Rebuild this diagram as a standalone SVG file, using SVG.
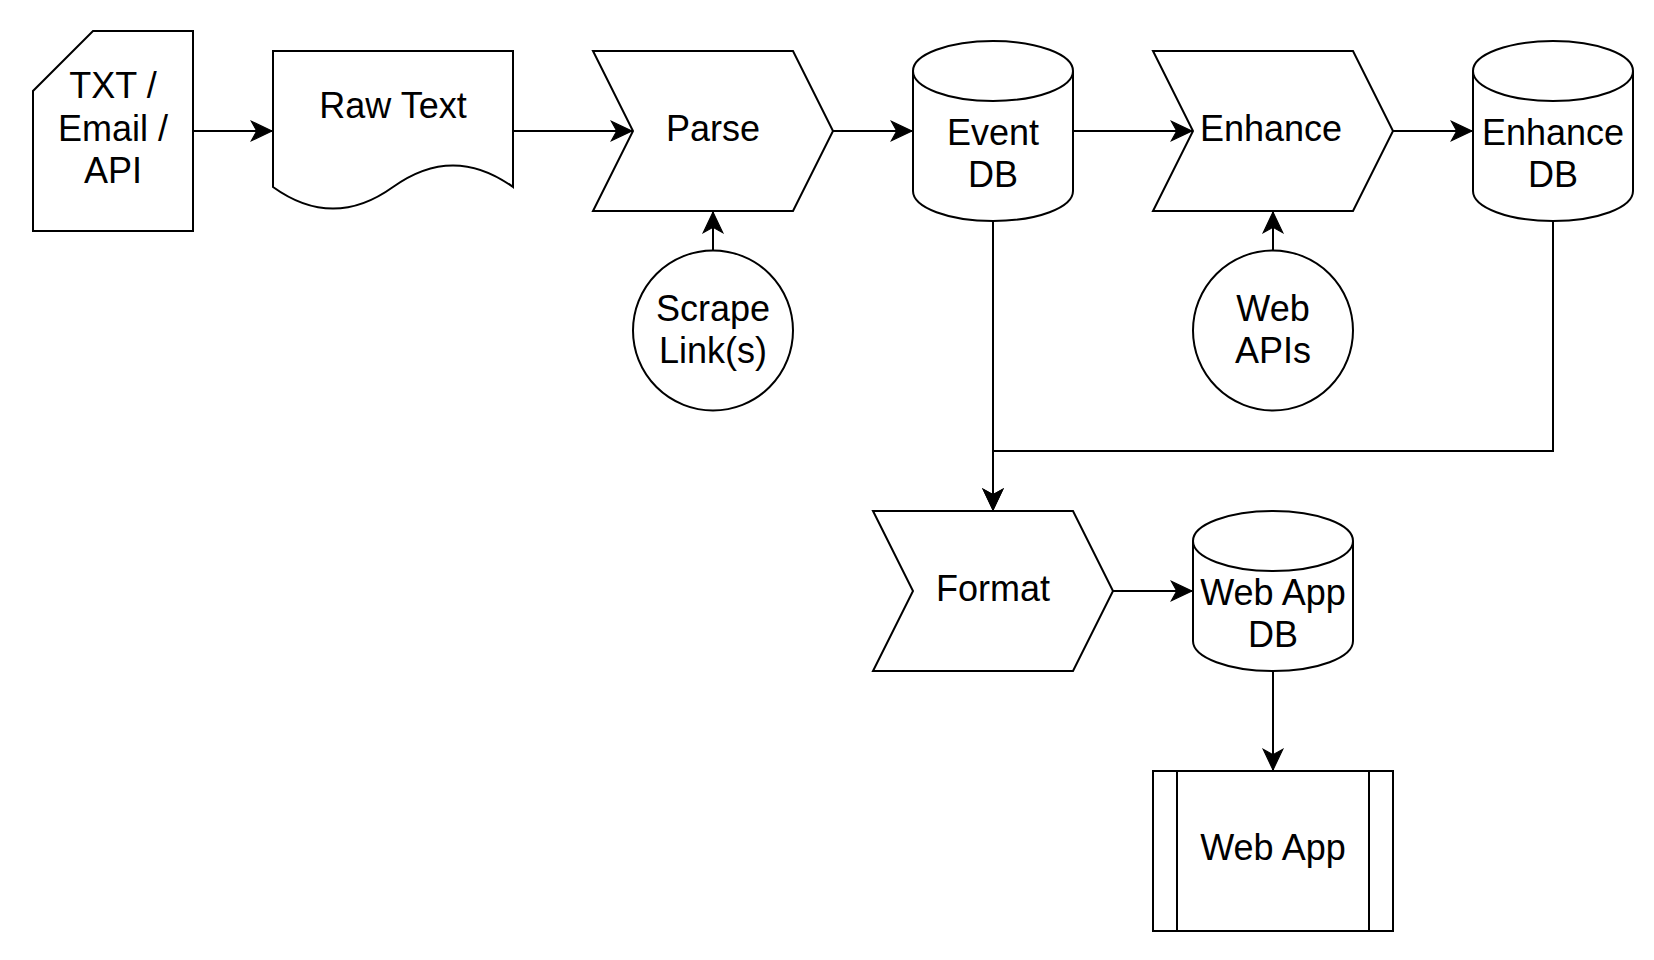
<svg xmlns="http://www.w3.org/2000/svg" width="1654" height="960" viewBox="0 0 1654 960">
<style>
.s{fill:#fff;stroke:#000;stroke-width:2;stroke-linejoin:miter}
.f{fill:none;stroke:#000;stroke-width:2}
.e{fill:none;stroke:#000;stroke-width:2;marker-end:url(#arr)}
text{font-family:"Liberation Sans",Arial,Helvetica,sans-serif;font-size:36px;fill:#000;text-anchor:middle}
</style>
<defs>
<marker id="arr" markerUnits="userSpaceOnUse" markerWidth="24" markerHeight="24" viewBox="-20 -10 22 20" refX="0" refY="0" orient="auto">
<path d="M0 0 L-19 -9 L-14 0 L-19 9 Z" fill="#000" stroke="#000" stroke-width="1"/>
</marker>
</defs>
<rect width="1654" height="960" fill="#fff"/>
<g id="connectors">
<path class="e" d="M193 131 H272"/>
<path class="e" d="M513 131 H632"/>
<path class="e" d="M833 131 H912"/>
<path class="e" d="M1073 131 H1192"/>
<path class="e" d="M1393 131 H1472"/>
<path class="e" d="M713 250 V212"/>
<path class="e" d="M1273 250 V212"/>
<path class="e" d="M993 221 V510"/>
<path class="e" d="M1553 221 V451 H993 V510"/>
<path class="e" d="M1113 591 H1192"/>
<path class="e" d="M1273 671 V770"/>
</g>
<g id="source">
<path class="s" d="M93 31 H193 V231 H33 V91 Z"/>
<text x="113" y="98">TXT /</text>
<text x="113" y="140.5">Email /</text>
<text x="113" y="183">API</text>
</g>
<g id="rawtext">
<path class="s" d="M273 51 H513 V187 Q453 143.8 393 187 Q333 230.2 273 187 Z"/>
<text x="393" y="118">Raw Text</text>
</g>
<g id="parse">
<path class="s" d="M593 51 H793 L833 131 L793 211 H593 L633 131 Z"/>
<text x="713" y="141">Parse</text>
</g>
<g id="eventdb">
<path class="s" d="M913 71 A80 30 0 0 1 1073 71 V191 A80 30 0 0 1 913 191 Z"/>
<path class="f" d="M913 71 A80 30 0 0 0 1073 71"/>
<text x="993" y="145">Event</text>
<text x="993" y="187">DB</text>
</g>
<g id="enhance">
<path class="s" d="M1153 51 H1353 L1393 131 L1353 211 H1153 L1193 131 Z"/>
<text x="1271" y="141">Enhance</text>
</g>
<g id="enhancedb">
<path class="s" d="M1473 71 A80 30 0 0 1 1633 71 V191 A80 30 0 0 1 1473 191 Z"/>
<path class="f" d="M1473 71 A80 30 0 0 0 1633 71"/>
<text x="1553" y="145">Enhance</text>
<text x="1553" y="187">DB</text>
</g>
<g id="scrape">
<circle class="s" cx="713" cy="330.5" r="80"/>
<text x="713" y="321">Scrape</text>
<text x="713" y="363">Link(s)</text>
</g>
<g id="webapis">
<circle class="s" cx="1273" cy="330.5" r="80"/>
<text x="1273" y="321">Web</text>
<text x="1273" y="363">APIs</text>
</g>
<g id="format">
<path class="s" d="M873 511 H1073 L1113 591 L1073 671 H873 L913 591 Z"/>
<text x="993" y="601">Format</text>
</g>
<g id="webappdb">
<path class="s" d="M1193 541 A80 30 0 0 1 1353 541 V641 A80 30 0 0 1 1193 641 Z"/>
<path class="f" d="M1193 541 A80 30 0 0 0 1353 541"/>
<text x="1273" y="605">Web App</text>
<text x="1273" y="647">DB</text>
</g>
<g id="webapp">
<rect class="s" x="1153" y="771" width="240" height="160"/>
<path class="f" d="M1177 771 V931 M1369 771 V931"/>
<text x="1273" y="860">Web App</text>
</g>
</svg>
